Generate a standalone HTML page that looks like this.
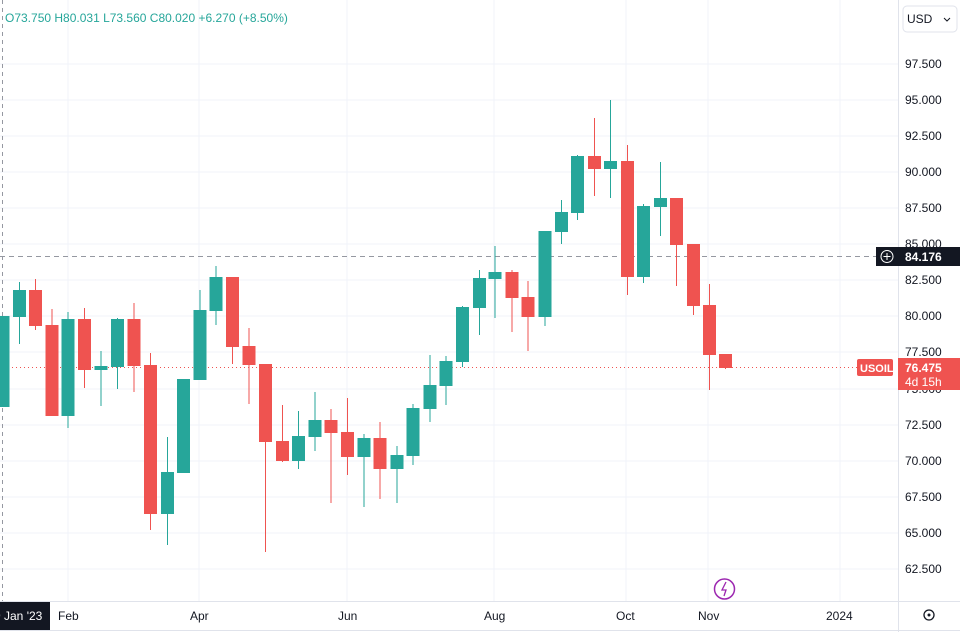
<!DOCTYPE html>
<html><head><meta charset="utf-8"><style>
html,body{margin:0;padding:0;background:#fff;width:960px;height:632px;overflow:hidden;font-family:"Liberation Sans",sans-serif}
</style></head><body>
<svg width="960" height="632" xmlns="http://www.w3.org/2000/svg" font-family="Liberation Sans, sans-serif">
<rect width="960" height="632" fill="#fff"/>
<g stroke="#f0f3fa" stroke-width="1">
<line x1="0" x2="898" y1="64" y2="64"/><line x1="0" x2="898" y1="100" y2="100"/><line x1="0" x2="898" y1="136" y2="136"/><line x1="0" x2="898" y1="172" y2="172"/><line x1="0" x2="898" y1="208" y2="208"/><line x1="0" x2="898" y1="244" y2="244"/><line x1="0" x2="898" y1="280" y2="280"/><line x1="0" x2="898" y1="316" y2="316"/><line x1="0" x2="898" y1="352" y2="352"/><line x1="0" x2="898" y1="389" y2="389"/><line x1="0" x2="898" y1="425" y2="425"/><line x1="0" x2="898" y1="461" y2="461"/><line x1="0" x2="898" y1="497" y2="497"/><line x1="0" x2="898" y1="533" y2="533"/><line x1="0" x2="898" y1="569" y2="569"/>
<line x1="68" x2="68" y1="0" y2="601"/><line x1="199" x2="199" y1="0" y2="601"/><line x1="347" x2="347" y1="0" y2="601"/><line x1="494" x2="494" y1="0" y2="601"/><line x1="626" x2="626" y1="0" y2="601"/><line x1="708" x2="708" y1="0" y2="601"/><line x1="840" x2="840" y1="0" y2="601"/>
</g>
<line x1="2.5" x2="2.5" y1="0" y2="601" stroke="#9598a1" stroke-dasharray="4,4"/>
<line x1="0" x2="876" y1="256.5" y2="256.5" stroke="#9598a1" stroke-dasharray="5,4"/>
<line x1="0" x2="857" y1="367.5" y2="367.5" stroke="#ef5350" stroke-dasharray="1,3"/>
<g stroke="#26a69a" stroke-width="1">
<line x1="19.5" x2="19.5" y1="282" y2="344"/><line x1="68" x2="68" y1="312" y2="428"/><line x1="101" x2="101" y1="351" y2="406"/><line x1="117.5" x2="117.5" y1="318" y2="389"/><line x1="167.5" x2="167.5" y1="437" y2="545"/><line x1="200" x2="200" y1="290" y2="380"/><line x1="216" x2="216" y1="266" y2="325"/><line x1="298.5" x2="298.5" y1="411" y2="469"/><line x1="315" x2="315" y1="392" y2="451"/><line x1="364" x2="364" y1="434" y2="507"/><line x1="397" x2="397" y1="446" y2="503"/><line x1="413" x2="413" y1="404" y2="465"/><line x1="430" x2="430" y1="355" y2="422"/><line x1="446" x2="446" y1="356" y2="405"/><line x1="462.5" x2="462.5" y1="306" y2="367"/><line x1="479.5" x2="479.5" y1="270" y2="335"/><line x1="495" x2="495" y1="246" y2="318"/><line x1="545" x2="545" y1="231" y2="326"/><line x1="561.5" x2="561.5" y1="200" y2="244"/><line x1="577.5" x2="577.5" y1="155" y2="220"/><line x1="610.5" x2="610.5" y1="100" y2="198"/><line x1="643.5" x2="643.5" y1="204" y2="283"/><line x1="660.5" x2="660.5" y1="162" y2="236"/>
</g>
<g fill="#26a69a">
<rect x="-3.5" y="316" width="13" height="91"/><rect x="13" y="290" width="13" height="27"/><rect x="61.5" y="319" width="13" height="97"/><rect x="94.5" y="366" width="13" height="4"/><rect x="111" y="319" width="13" height="48"/><rect x="161" y="472" width="13" height="42"/><rect x="177" y="379" width="13" height="94"/><rect x="193.5" y="310" width="13" height="70"/><rect x="209.5" y="277" width="13" height="34"/><rect x="292" y="436" width="13" height="25"/><rect x="308.5" y="420" width="13" height="17"/><rect x="357.5" y="438" width="13" height="19"/><rect x="390.5" y="455" width="13" height="14"/><rect x="406.5" y="408" width="13" height="48"/><rect x="423.5" y="385" width="13" height="24"/><rect x="439.5" y="361" width="13" height="25"/><rect x="456" y="307" width="13" height="55"/><rect x="473" y="278" width="13" height="30"/><rect x="488.5" y="272" width="13" height="7"/><rect x="538.5" y="231" width="13" height="86"/><rect x="555" y="212" width="13" height="20"/><rect x="571" y="156" width="13" height="57"/><rect x="604" y="161" width="13" height="8"/><rect x="637" y="206" width="13" height="71"/><rect x="654" y="198" width="13" height="9"/>
</g>
<g stroke="#ef5350" stroke-width="1">
<line x1="35.5" x2="35.5" y1="279" y2="330"/><line x1="52" x2="52" y1="309" y2="416"/><line x1="84.5" x2="84.5" y1="308" y2="388"/><line x1="134" x2="134" y1="303" y2="392"/><line x1="150.5" x2="150.5" y1="353" y2="530"/><line x1="232.5" x2="232.5" y1="277" y2="364"/><line x1="249" x2="249" y1="328" y2="404"/><line x1="265.5" x2="265.5" y1="364" y2="552"/><line x1="282.5" x2="282.5" y1="405" y2="462"/><line x1="331" x2="331" y1="409" y2="503"/><line x1="347.5" x2="347.5" y1="398" y2="475"/><line x1="380" x2="380" y1="422" y2="499"/><line x1="512" x2="512" y1="270" y2="332"/><line x1="528" x2="528" y1="281" y2="351"/><line x1="594.5" x2="594.5" y1="118" y2="196"/><line x1="627.5" x2="627.5" y1="145" y2="295"/><line x1="676.5" x2="676.5" y1="198" y2="286"/><line x1="693.5" x2="693.5" y1="244" y2="315"/><line x1="709.5" x2="709.5" y1="284" y2="390"/><line x1="725.5" x2="725.5" y1="354" y2="369"/>
</g>
<g fill="#ef5350">
<rect x="29" y="290" width="13" height="36"/><rect x="45.5" y="325" width="13" height="91"/><rect x="78" y="319" width="13" height="51"/><rect x="127.5" y="319" width="13" height="47"/><rect x="144" y="365" width="13" height="149"/><rect x="226" y="277" width="13" height="70"/><rect x="242.5" y="346" width="13" height="19"/><rect x="259" y="364" width="13" height="78"/><rect x="276" y="441" width="13" height="20"/><rect x="324.5" y="420" width="13" height="13"/><rect x="341" y="432" width="13" height="25"/><rect x="373.5" y="438" width="13" height="31"/><rect x="505.5" y="272" width="13" height="26"/><rect x="521.5" y="297" width="13" height="20"/><rect x="588" y="156" width="13" height="13"/><rect x="621" y="161" width="13" height="116"/><rect x="670" y="198" width="13" height="47"/><rect x="687" y="244" width="13" height="62"/><rect x="703" y="305" width="13" height="50"/><rect x="719" y="354" width="13" height="14"/>
</g>
<rect x="898" y="0" width="62" height="632" fill="#fff"/>
<line x1="898.5" x2="898.5" y1="0" y2="632" stroke="#e0e3eb"/>
<line x1="0" x2="960" y1="601.5" y2="601.5" stroke="#e0e3eb"/>
<line x1="0" x2="960" y1="630.5" y2="630.5" stroke="#e0e3eb"/>
<g font-size="12" fill="#131722">
<text x="905" y="68">97.500</text><text x="905" y="104">95.000</text><text x="905" y="140">92.500</text><text x="905" y="176">90.000</text><text x="905" y="212">87.500</text><text x="905" y="248">85.000</text><text x="905" y="284">82.500</text><text x="905" y="320">80.000</text><text x="905" y="356">77.500</text><text x="905" y="393">75.000</text><text x="905" y="429">72.500</text><text x="905" y="465">70.000</text><text x="905" y="501">67.500</text><text x="905" y="537">65.000</text><text x="905" y="573">62.500</text>
</g>
<rect x="903" y="6" width="54" height="26" rx="4" fill="#fff" stroke="#e0e3eb"/>
<text x="907" y="23" font-size="12" fill="#131722">USD</text>
<path d="M944 18 l3 3 l3 -3" stroke="#131722" fill="none"/>
<rect x="876" y="247" width="22" height="19" fill="#131722"/>
<circle cx="887" cy="256.5" r="6" fill="none" stroke="#fff"/>
<path d="M887 253v7M883.5 256.5h7" stroke="#fff"/>
<rect x="898" y="247" width="62" height="19" fill="#131722"/>
<text x="905" y="261" font-size="12" font-weight="bold" fill="#fff">84.176</text>
<rect x="857" y="359" width="36" height="17" rx="2" fill="#ef5350"/>
<text x="860" y="372" font-size="11" font-weight="bold" fill="#fff">USOIL</text>
<rect x="898" y="358" width="62" height="32" fill="#ef5350"/>
<text x="905" y="372" font-size="12" font-weight="bold" fill="#fff">76.475</text>
<text x="905" y="386" font-size="12" fill="#fff">4d 15h</text>
<text x="5" y="22" font-size="12" fill="#26a69a">O73.750 H80.031 L73.560 C80.020 +6.270 (+8.50%)</text>
<rect x="0" y="602" width="50" height="28" fill="#131722"/>
<text x="-6" y="620" font-size="12" fill="#fff">9 Jan '23</text>
<g font-size="12" fill="#131722">
<text x="58" y="620">Feb</text><text x="190" y="620">Apr</text><text x="338" y="620">Jun</text><text x="484" y="620">Aug</text><text x="616" y="620">Oct</text><text x="698" y="620">Nov</text><text x="826" y="620">2024</text>
</g>
<circle cx="929" cy="615" r="5" fill="none" stroke="#131722" stroke-width="1.3"/><circle cx="929" cy="615" r="1.5" fill="#131722"/>
<circle cx="724.5" cy="589" r="10" fill="none" stroke="#9c27b0" stroke-width="1.5"/>
<path d="M726 582 l-4 8 h4 l-2 6" stroke="#9c27b0" fill="none" stroke-width="1.3"/>
</svg>
</body></html>
